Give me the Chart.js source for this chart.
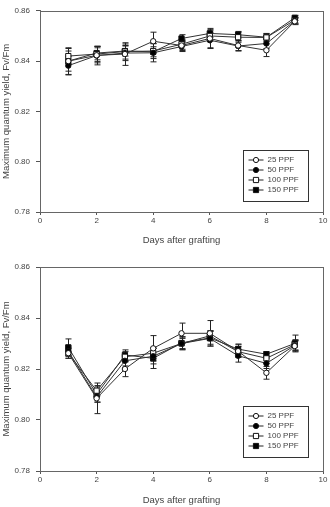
<!DOCTYPE html>
<html>
<head>
<meta charset="utf-8">
<script src="https://cdn.jsdelivr.net/npm/chart.js@4.4.1/dist/chart.umd.min.js"></script>
<style>
    body { margin: 0; background: #fff; }
    .box { position: absolute; left: 0; width: 330px; }
</style>
</head>
<body>
<div class="box" style="top:0;height:250px"><canvas id="chartTop"></canvas></div>
<div class="box" style="top:250px;height:257px"><canvas id="chartBottom"></canvas></div>
<script>
// datos
const days = [1, 2, 3, 4, 5, 6, 7, 8, 9];
const xTicks = [0, 2, 4, 6, 8, 10];
const yTicks = [0.78, 0.80, 0.82, 0.84, 0.86];
const seriesNames = ['25 PPF', '50 PPF', '100 PPF', '150 PPF'];

// grafico de arriba
const top25 = [0.8400, 0.8423, 0.8428, 0.8479, 0.8462, 0.8490, 0.8462, 0.8443, 0.8558];
const top50 = [0.8382, 0.8422, 0.8432, 0.8433, 0.8458, 0.8483, 0.8460, 0.8470, 0.8560];
const top100 = [0.8420, 0.8428, 0.8438, 0.8440, 0.8467, 0.8500, 0.8495, 0.8494, 0.8563];
const top150 = [0.8400, 0.8432, 0.8440, 0.8437, 0.8490, 0.8510, 0.8505, 0.8495, 0.8572];
const topErr25 = [0.0040, 0.0030, 0.0045, 0.0036, 0.0020, 0.0040, 0.0020, 0.0025, 0.0013];
const topErr50 = [0.0037, 0.0037, 0.0030, 0.0036, 0.0020, 0.0030, 0.0020, 0.0020, 0.0012];
const topErr100 = [0.0030, 0.0030, 0.0030, 0.0030, 0.0020, 0.0020, 0.0020, 0.0015, 0.0012];
const topErr150 = [0.0053, 0.0027, 0.0020, 0.0020, 0.0015, 0.0015, 0.0013, 0.0015, 0.0010];

// grafico de abajo
const bot25 = [0.8262, 0.8085, 0.8200, 0.8281, 0.8340, 0.8340, 0.8270, 0.8185, 0.8290];
const bot50 = [0.8270, 0.8090, 0.8232, 0.8250, 0.8300, 0.8320, 0.8252, 0.8222, 0.8292];
const bot100 = [0.8262, 0.8115, 0.8248, 0.8262, 0.8300, 0.8330, 0.8268, 0.8242, 0.8295];
const bot150 = [0.8285, 0.8100, 0.8255, 0.8242, 0.8302, 0.8322, 0.8278, 0.8258, 0.8300];
const botErr25 = [0.0020, 0.0060, 0.0030, 0.0050, 0.0040, 0.0050, 0.0025, 0.0025, 0.0020];
const botErr50 = [0.0020, 0.0020, 0.0020, 0.0030, 0.0025, 0.0030, 0.0025, 0.0020, 0.0020];
const botErr100 = [0.0020, 0.0020, 0.0020, 0.0020, 0.0020, 0.0020, 0.0020, 0.0020, 0.0020];
const botErr150 = [0.0033, 0.0030, 0.0020, 0.0040, 0.0025, 0.0025, 0.0020, 0.0010, 0.0033];

const estilos = [
    { style: 'circle', fill: '#fff' },
    { style: 'circle', fill: '#000' },
    { style: 'rect', fill: '#fff' },
    { style: 'rect', fill: '#000' }
];
const fuente = "'Liberation Sans', Arial, sans-serif";
const gris = '#444';

function dibujarMarca(ctx, estilo, x, y) {
    ctx.fillStyle = estilo.fill;
    ctx.strokeStyle = '#111';
    ctx.lineWidth = 1;
    ctx.beginPath();
    if (estilo.style === 'circle') ctx.arc(x, y, 2.6, 0, Math.PI * 2);
    else ctx.rect(x - 2.6, y - 2.6, 5.2, 5.2);
    ctx.fill();
    ctx.stroke();
}

// barras de error, marco y leyenda
const extras = {
    id: 'extras',
    beforeDatasetsDraw(chart) {
        const ctx = chart.ctx;
        const xs = chart.scales.x, ys = chart.scales.y;
        ctx.save();
        ctx.strokeStyle = '#222';
        ctx.lineWidth = 1;
        chart.data.datasets.forEach(ds => {
            ds.data.forEach((p, i) => {
                const px = Math.round(xs.getPixelForValue(p.x)) + 0.5;
                const y1 = ys.getPixelForValue(p.y + ds.errores[i]);
                const y2 = ys.getPixelForValue(p.y - ds.errores[i]);
                ctx.beginPath();
                ctx.moveTo(px, y1); ctx.lineTo(px, y2);
                ctx.moveTo(px - 3, y1); ctx.lineTo(px + 3, y1);
                ctx.moveTo(px - 3, y2); ctx.lineTo(px + 3, y2);
                ctx.stroke();
            });
        });
        ctx.restore();
    },
    afterDraw(chart) {
        const ctx = chart.ctx;
        const a = chart.chartArea;
        ctx.save();
        ctx.strokeStyle = '#666';
        ctx.lineWidth = 1;
        ctx.strokeRect(Math.round(a.left) + 0.5, Math.round(a.top) + 0.5,
            Math.round(a.right - a.left), Math.round(a.bottom - a.top));

        // leyenda
        const lx = Math.round(a.left) + 203.5, ly = Math.round(a.top) + 139.5;
        ctx.strokeStyle = '#333';
        ctx.strokeRect(lx, ly, 65, 51);
        ctx.font = '8px ' + fuente;
        ctx.textBaseline = 'middle';
        seriesNames.forEach((n, i) => {
            const ry = ly + 9.5 + i * 10;
            ctx.strokeStyle = '#222';
            ctx.beginPath();
            ctx.moveTo(lx + 5, ry); ctx.lineTo(lx + 20, ry);
            ctx.stroke();
            dibujarMarca(ctx, estilos[i], lx + 12.5, ry);
            ctx.fillStyle = gris;
            ctx.fillText(n, lx + 24, ry);
        });
        ctx.restore();
    }
};

function crearGrafico(id, valores, errores, arriba, altoX, padTitulo) {
    const ctx = document.getElementById(id).getContext('2d');
    return new Chart(ctx, {
        type: 'line',
        data: {
            datasets: valores.map((serie, k) => ({
                label: seriesNames[k],
                data: days.map((d, i) => ({ x: d, y: serie[i] })),
                errores: errores[k],
                borderColor: '#333',
                borderWidth: 1,
                fill: false,
                tension: 0,
                pointStyle: estilos[k].style,
                pointRadius: estilos[k].style === 'rect' ? 3.7 : 2.7,
                pointBackgroundColor: estilos[k].fill,
                pointBorderColor: '#111',
                pointBorderWidth: 1
            }))
        },
        options: {
            responsive: true,
            maintainAspectRatio: false,
            animation: false,
            layout: { padding: { top: arriba, right: 7, left: 0, bottom: 0 } },
            plugins: {
                legend: { display: false },
                tooltip: { enabled: false }
            },
            scales: {
                x: {
                    type: 'linear',
                    min: 0,
                    max: 10,
                    afterBuildTicks: s => { s.ticks = xTicks.map(v => ({ value: v })); },
                    afterFit: s => { s.height = altoX; },
                    grid: { drawOnChartArea: false, tickLength: 3, color: '#555' },
                    border: { color: '#666' },
                    ticks: { color: gris, font: { family: fuente, size: 8 }, padding: 1 },
                    title: {
                        display: true,
                        text: 'Days after grafting',
                        color: gris,
                        font: { family: fuente, size: 9.5 },
                        padding: { top: 4, bottom: padTitulo }
                    }
                },
                y: {
                    min: 0.78,
                    max: 0.86,
                    afterBuildTicks: s => { s.ticks = yTicks.map(v => ({ value: v })); },
                    afterFit: s => { s.width = 40; },
                    grid: { drawOnChartArea: false, tickLength: 4, color: '#555' },
                    border: { color: '#666' },
                    ticks: {
                        color: gris,
                        font: { family: fuente, size: 8 },
                        padding: 6,
                        callback: v => v.toFixed(2)
                    },
                    title: {
                        display: true,
                        text: 'Maximum quantum yield, Fv/Fm',
                        color: gris,
                        font: { family: fuente, size: 9.5 },
                        padding: { top: 1, bottom: 0 }
                    }
                }
            }
        },
        plugins: [extras]
    });
}

crearGrafico('chartTop', [top25, top50, top100, top150],
    [topErr25, topErr50, topErr100, topErr150], 7, 38, 4);
crearGrafico('chartBottom', [bot25, bot50, bot100, bot150],
    [botErr25, botErr50, botErr100, botErr150], 17, 36, 1);
</script>
</body>
</html>
